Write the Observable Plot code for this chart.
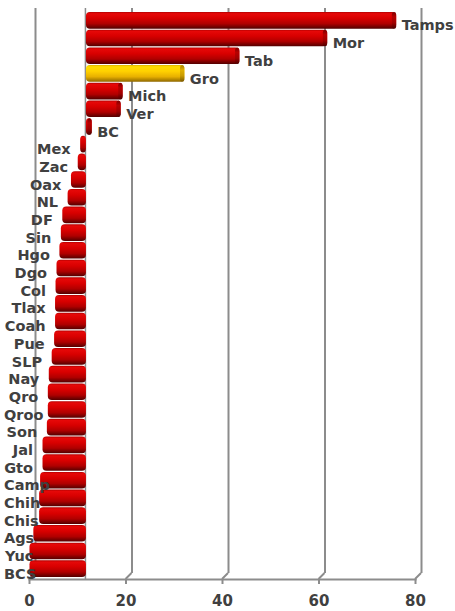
<!DOCTYPE html>
<html>
<head>
<meta charset="utf-8">
<script src="https://cdn.jsdelivr.net/npm/d3@7"></script>
<script src="https://cdn.jsdelivr.net/npm/@observablehq/plot@0.6"></script>
<style>
  html, body { margin: 0; padding: 0; background: #ffffff; }
  #chart { width: 455px; height: 611px; }
</style>
</head>
<body>
<div id="chart"></div>
<script>
const states = ["Tamps","Mor","Tab","Gro","Mich","Ver","BC","Mex","Zac","Oax","NL","DF","Sin","Hgo","Dgo","Col","Tlax","Coah","Pue","SLP","Nay","Qro","Qroo","Son","Jal","Gto","Camp","Chih","Chis","Ags","Yuc","BCS"];
const values = [76.1, 61.8, 43.6, 32.2, 19.4, 19.0, 13.0, 10.6, 10.1, 8.7, 8.0, 6.9, 6.6, 6.3, 5.7, 5.5, 5.4, 5.4, 5.2, 4.7, 4.1, 3.9, 3.9, 3.7, 2.8, 2.8, 2.3, 2.1, 2.1, 0.9, 0.1, 0.1];
const baseline = 11.8;
const highlight = "Gro";
const xTicks = [0, 20, 40, 60, 80];

const data = states.map((s, i) => ({state: s, value: values[i], hi: s === highlight}));
const rightData = data.filter(d => d.value > baseline);
const leftData = data.filter(d => d.value <= baseline);

const gridColor = "#8c8c8c";
const textColor = "#404040";

function grad(defs, id, stops) {
  const lg = defs.append("linearGradient").attr("id", id)
    .attr("x1", 0).attr("y1", 0).attr("x2", 0).attr("y2", 1);
  stops.forEach(([o, c]) => lg.append("stop").attr("offset", o).attr("stop-color", c));
}

function defsMark() {
  const g = d3.create("svg:g");
  const defs = g.append("defs");
  grad(defs, "gradRed", [["0%", "#b00000"], ["10%", "#e60808"], ["38%", "#d80000"], ["70%", "#b00000"], ["100%", "#520000"]]);
  grad(defs, "gradYel", [["0%", "#e0b000"], ["10%", "#ffe000"], ["38%", "#ffd000"], ["70%", "#e8b000"], ["100%", "#8f6800"]]);
  grad(defs, "capRed", [["0%", "#7a0000"], ["30%", "#b80000"], ["65%", "#a00000"], ["100%", "#4a0000"]]);
  grad(defs, "capYel", [["0%", "#a88000"], ["30%", "#e0b000"], ["65%", "#c89a00"], ["100%", "#7a5800"]]);
  return g.node();
}

function diagonals(index, scales, values, dims) {
  const g = d3.create("svg:g").attr("stroke", gridColor).attr("stroke-width", 2).attr("fill", "none");
  const yb = dims.height - dims.marginBottom;
  for (const t of xTicks) {
    const x = scales.x(t);
    g.append("path").attr("d", `M${x + 6},${yb - 6}L${x},${yb}`);
  }
  return g.node();
}

const chart = Plot.plot({
  width: 455,
  height: 611,
  marginLeft: 29,
  marginRight: 40,
  marginTop: 8,
  marginBottom: 32,
  style: {fontFamily: "'DejaVu Sans', 'Open Sans', sans-serif", fontWeight: "bold", background: "#ffffff"},
  x: {domain: [0, 80], axis: null},
  y: {domain: states, range: [12, 577], paddingInner: 0.06, paddingOuter: 0, round: false, axis: null},
  marks: [
    defsMark,
    Plot.ruleX(xTicks, {x: d => d, dx: 6, insetBottom: 6, stroke: gridColor, strokeWidth: 2}),
    diagonals,
    Plot.frame({anchor: "bottom", stroke: gridColor, strokeWidth: 2}),
    Plot.ruleX([baseline], {x: d => d, dx: -1, stroke: gridColor, strokeWidth: 1.5}),
    Plot.barX(data, {
      y: "state", x1: () => baseline, x2: "value",
      fill: d => d.hi ? "url(#gradYel)" : "url(#gradRed)",
      rx: 4
    }),
    Plot.barX(rightData, {
      y: "state", x1: d => d.value - 0.9, x2: "value",
      fill: d => d.hi ? "url(#capYel)" : "url(#capRed)",
      rx: 2.5
    }),
    Plot.text(rightData, {
      y: "state", x: "value", text: "state", textAnchor: "start",
      dx: 5, dy: 5, fontSize: 14.5, fill: textColor
    }),
    Plot.text(leftData, {
      y: "state", x: "value", text: "state", textAnchor: "end",
      dx: -10, dy: 5, fontSize: 14.5, fill: textColor
    }),
    Plot.axisX(xTicks, {
      anchor: "bottom", tickSize: 5, tickPadding: 11, fontSize: 15,
      stroke: gridColor, strokeWidth: 2, fill: textColor, label: null, tickFormat: d => String(d)
    })
  ]
});

document.getElementById("chart").appendChild(chart);

// keep left-side labels inside the chart's left edge
const svgRect = chart.getBoundingClientRect();
chart.querySelectorAll('g[aria-label="text"][text-anchor="end"] text').forEach(t => {
  const r = t.getBoundingClientRect();
  const left = r.left - svgRect.left;
  if (left < 4) {
    const tr = t.getAttribute("transform") || "";
    t.setAttribute("transform", tr + ` translate(${4 - left},0)`);
  }
});
</script>
</body>
</html>
